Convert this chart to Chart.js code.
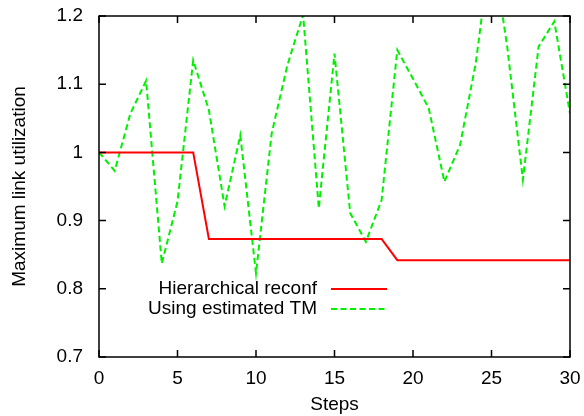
<!DOCTYPE html>
<html>
<head>
<meta charset="utf-8">
<script src="https://cdn.jsdelivr.net/npm/chart.js@4/dist/chart.umd.min.js"></script>
<style>
  html, body { margin: 0; padding: 0; background: #fff; }
  #wrap { width: 584px; height: 416px; }
</style>
</head>
<body>
<div id="wrap"><canvas id="grafica" width="584" height="416"></canvas></div>
<script>
// valores
const pasos = [0, 1, 2, 3, 4, 5, 6, 7, 8, 9, 10, 11, 12, 13, 14, 15, 16, 17, 18, 19, 20, 21, 22, 23, 24, 25, 26, 27, 28, 29, 30]
const jerarquico = [1, 1, 1, 1, 1, 1, 1, 0.873, 0.873, 0.873, 0.873, 0.873, 0.873, 0.873, 0.873, 0.873, 0.873, 0.873, 0.873,
   0.842, 0.842, 0.842, 0.842, 0.842, 0.842, 0.842, 0.842, 0.842, 0.842, 0.842, 0.842]
const estimada = [1.0, 0.973, 1.057, 1.105, 0.837, 0.928, 1.135, 1.062, 0.921, 1.025, 0.823, 1.028, 1.128, 1.202, 0.918, 1.145,
   0.911, 0.869, 0.930, 1.150, 1.108, 1.065, 0.957, 1.011, 1.131, 1.31, 1.155, 0.960, 1.155, 1.192, 1.057]
const ticksX = [0, 5, 10, 15, 20, 25, 30]
const ticksY = [0.7, 0.8, 0.9, 1.0, 1.1, 1.2]
const etiquetas = ["Hierarchical reconf", "Using estimated TM"]

const fuente = "'Liberation Sans', Arial, Helvetica, sans-serif"

const aPuntos = (valores) => {
   return valores.map((v, i) => ({ x: pasos[i], y: v }))
}

// borde y marcas hacia dentro, estilo gnuplot
const marcoGnuplot = {
   id: 'marcoGnuplot',
   afterDraw(chart) {
      const ctx = chart.ctx
      const a = chart.chartArea
      const sx = chart.scales.x
      const sy = chart.scales.y
      const largo = 7
      ctx.save()
      ctx.strokeStyle = '#000'
      ctx.lineWidth = 1.5
      ctx.beginPath()
      ticksX.forEach(t => {
         const px = sx.getPixelForValue(t)
         ctx.moveTo(px, a.bottom); ctx.lineTo(px, a.bottom - largo)
         ctx.moveTo(px, a.top); ctx.lineTo(px, a.top + largo)
      })
      ticksY.forEach(t => {
         const py = sy.getPixelForValue(t)
         ctx.moveTo(a.left, py); ctx.lineTo(a.left + largo, py)
         ctx.moveTo(a.right, py); ctx.lineTo(a.right - largo, py)
      })
      ctx.stroke()
      ctx.strokeRect(a.left, a.top, a.right - a.left, a.bottom - a.top)

      // leyenda
      ctx.font = '19px ' + fuente
      ctx.textAlign = 'right'
      ctx.textBaseline = 'middle'
      ctx.fillStyle = '#000'
      chart.data.datasets.forEach((ds, i) => {
         const y = 289 + i * 20
         ctx.fillText(ds.label, 317, y)
         ctx.strokeStyle = ds.borderColor
         ctx.lineWidth = ds.borderWidth
         ctx.setLineDash(ds.borderDash || [])
         ctx.beginPath()
         ctx.moveTo(331, y)
         ctx.lineTo(387, y)
         ctx.stroke()
      })
      ctx.restore()
   }
}

const data = {
   datasets: [{
      label: etiquetas[0],
      data: aPuntos(jerarquico),
      borderColor: '#ff0000',
      borderWidth: 2,
      pointRadius: 0,
      fill: false,
      tension: 0
   }, {
      label: etiquetas[1],
      data: aPuntos(estimada),
      borderColor: '#00f000',
      borderWidth: 2,
      borderDash: [6, 3.5],
      pointRadius: 0,
      fill: false,
      tension: 0
   }]
}

var ctx = document.getElementById('grafica').getContext('2d')

new Chart(ctx, {
   type: 'line',
   data: data,
   plugins: [marcoGnuplot],
   options: {
      responsive: false,
      animation: false,
      devicePixelRatio: 1,
      layout: { padding: { top: 16, right: 14, left: 0, bottom: 0 } },
      plugins: {
         legend: { display: false },
         tooltip: { enabled: false }
      },
      scales: {
         x: {
            type: 'linear',
            min: 0,
            max: 30,
            afterFit: (s) => { s.height = 59; s.paddingLeft = 0; s.paddingRight = 0 },
            afterBuildTicks: (s) => { s.ticks = ticksX.map(v => ({ value: v })) },
            grid: { display: false, drawTicks: false },
            border: { display: false },
            ticks: { padding: 10, color: '#000', font: { family: fuente, size: 19 }, maxRotation: 0 },
            title: { display: true, text: 'Steps', color: '#000', padding: { top: 0, bottom: 0 }, font: { family: fuente, size: 19 } }
         },
         y: {
            min: 0.7,
            max: 1.2,
            afterFit: (s) => { s.width = 99; s.paddingTop = 0; s.paddingBottom = 0 },
            afterBuildTicks: (s) => { s.ticks = ticksY.map(v => ({ value: v })) },
            grid: { display: false, drawTicks: false },
            border: { display: false },
            ticks: {
               padding: 16, color: '#000', font: { family: fuente, size: 19 },
               callback: (v) => String(+v.toFixed(2))
            },
            title: { display: true, text: 'Maximum link utilization', color: '#000', padding: { top: 8, bottom: 0 }, font: { family: fuente, size: 19 } }
         }
      }
   }
})
</script>
</body>
</html>
